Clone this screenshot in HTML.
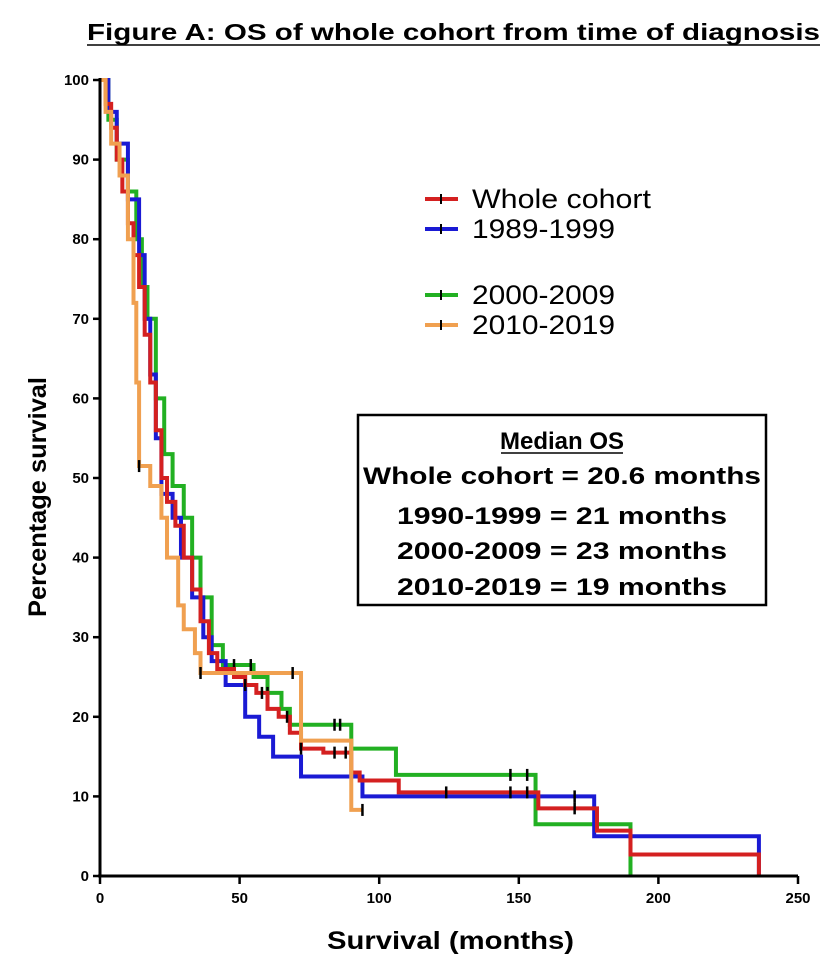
<!DOCTYPE html>
<html><head><meta charset="utf-8"><style>
body{margin:0;background:#fff;width:838px;height:974px;overflow:hidden;font-family:"Liberation Sans",Arial,sans-serif}
</style></head><body>
<svg id="chart" width="838" height="974" viewBox="0 0 838 974" xmlns="http://www.w3.org/2000/svg">
<text x="87" y="40" font-size="23" font-weight="bold" fill="#000" textLength="733" lengthAdjust="spacingAndGlyphs">Figure A: OS of whole cohort from time of diagnosis</text>
<line x1="87" y1="45" x2="820" y2="45" stroke="#000" stroke-width="1.5"/>
<g id="plot"></g>
<text transform="translate(46,497) rotate(-90)" text-anchor="middle" font-size="25" font-weight="bold" textLength="240" lengthAdjust="spacingAndGlyphs">Percentage survival</text>
<text x="327" y="949" font-size="25" font-weight="bold" textLength="247" lengthAdjust="spacingAndGlyphs">Survival (months)</text>
<g font-size="27">
<g><line x1="425" y1="199" x2="458" y2="199" stroke="#d42020" stroke-width="4"/><line x1="441" y1="194" x2="441" y2="204" stroke="#000" stroke-width="2"/><text x="472" y="208" textLength="179" lengthAdjust="spacingAndGlyphs">Whole cohort</text></g>
<g><line x1="425" y1="229" x2="458" y2="229" stroke="#1a1ad4" stroke-width="4"/><line x1="441" y1="224" x2="441" y2="234" stroke="#000" stroke-width="2"/><text x="472" y="238" textLength="143" lengthAdjust="spacingAndGlyphs">1989-1999</text></g>
<g><line x1="425" y1="295" x2="458" y2="295" stroke="#22b022" stroke-width="4"/><line x1="441" y1="290" x2="441" y2="300" stroke="#000" stroke-width="2"/><text x="472" y="304" textLength="143" lengthAdjust="spacingAndGlyphs">2000-2009</text></g>
<g><line x1="425" y1="325" x2="458" y2="325" stroke="#f0a050" stroke-width="4"/><line x1="441" y1="320" x2="441" y2="330" stroke="#000" stroke-width="2"/><text x="472" y="334" textLength="143" lengthAdjust="spacingAndGlyphs">2010-2019</text></g>
</g>
<g font-size="24" font-weight="bold" text-anchor="middle">
<rect x="358" y="415" width="408" height="190" fill="#fff" stroke="#000" stroke-width="2.5"/>
<text x="562" y="449">Median OS</text>
<line x1="501" y1="453" x2="623" y2="453" stroke="#000" stroke-width="1.5"/>
<text x="562" y="484" textLength="398" lengthAdjust="spacingAndGlyphs">Whole cohort = 20.6 months</text>
<text x="562" y="524" textLength="330" lengthAdjust="spacingAndGlyphs">1990-1999 = 21 months</text>
<text x="562" y="559" textLength="330" lengthAdjust="spacingAndGlyphs">2000-2009 = 23 months</text>
<text x="562" y="595" textLength="330" lengthAdjust="spacingAndGlyphs">2010-2019 = 19 months</text>
</g>
</svg>
<script>
const xTicks=[0,50,100,150,200,250];
const yTicks=[0,10,20,30,40,50,60,70,80,90,100];
const redT=[0,2,4,6,8,10,12,14,16,18,20,22,24,27,30,33,36,39,42,48,52,56,60,64,68,72,80,90,93,107,157,178,190,236];
const redS=[100,97,94,90,86,82,78,74,68,62,56,50,47,44,40,36,32,28,26,25,24,23,21,20,18,16,15.5,13,12,10.5,8.5,5.7,2.7,0];
const blueT=[0,3,6,10,14,16,18,20,22,26,29,33,37,40,45,52,57,62,72,94,177,236];
const blueS=[100,96,92,85,78,70,63,55,48,45,40,35,30,27,24,20,17.5,15,12.5,10,5,0];
const greenT=[0,3,6,10,13,15,17,20,23,26,30,33,36,40,44,55,60,65,68,90,106,156,190];
const greenS=[100,95,90,86,80,74,70,60,53,49,45,40,35,29,26.5,25,23,21,19,16,12.7,6.5,0];
const orangeT=[0,2,4,7,10,12,13,14,18,22,24,28,30,34,36,72,90];
const orangeS=[100,96,92,88,80,72,62,51.5,49,45,40,34,31,28,25.5,17,8.3];
const orangeEnd=94;
const redCens=[52,58,67,72,84,88,124,147,153,170];
const greenCens=[48,54,60,84,86,147,153];
const blueCens=[170];
const orangeCens=[14,36,69,94];
const X=t=>100+t*2.792, Y=s=>876-s*7.96;
const NS='http://www.w3.org/2000/svg';
const g=document.getElementById('plot');
function mk(tag,a){const e=document.createElementNS(NS,tag);for(const k in a)e.setAttribute(k,a[k]);g.appendChild(e);return e;}
function sAt(T,S,t){let v=S[0];for(let i=0;i<T.length;i++)if(T[i]<=t)v=S[i];return v;}
function curve(T,S,end,color,name,cens){
  let d='M'+X(T[0])+','+Y(S[0]);
  for(let i=1;i<T.length;i++){d+=' H'+X(T[i])+' V'+Y(S[i]);}
  d+=' H'+X(end);
  const p=mk('path',{d:d,fill:'none',stroke:color,'stroke-width':4});
  
  
  cens.forEach(c=>{const y=Y(sAt(T,S,c));const l=mk('line',{x1:X(c),x2:X(c),y1:y-6,y2:y+6,stroke:'#000','stroke-width':2.5});
    
    });
}
curve(greenT,greenS,greenT[greenT.length-1],'#22b022','curve-2000-2009',greenCens);
curve(blueT,blueS,blueT[blueT.length-1],'#1a1ad4','curve-1989-1999',blueCens);
curve(redT,redS,redT[redT.length-1],'#d42020','curve-whole-cohort',redCens);
curve(orangeT,orangeS,orangeEnd,'#f0a050','curve-2010-2019',orangeCens);
const ya=mk('line',{x1:100,y1:Y(100)-2,x2:100,y2:877,stroke:'#000','stroke-width':3});


const xa=mk('line',{x1:98,y1:876,x2:X(250),y2:876,stroke:'#000','stroke-width':3});


yTicks.forEach(v=>{const l=mk('line',{x1:93,x2:100,y1:Y(v),y2:Y(v),stroke:'#000','stroke-width':2.5});
  
  
  const t=mk('text',{x:89,y:Y(v)+5,'text-anchor':'end','font-size':15,'font-weight':'bold'});t.textContent=v;
  
  });
xTicks.forEach(v=>{const l=mk('line',{x1:X(v),x2:X(v),y1:876,y2:884,stroke:'#000','stroke-width':2.5});
  
  
  const t=mk('text',{x:X(v),y:903,'text-anchor':'middle','font-size':15,'font-weight':'bold'});t.textContent=v;
  
  });
</script>
</body></html>
